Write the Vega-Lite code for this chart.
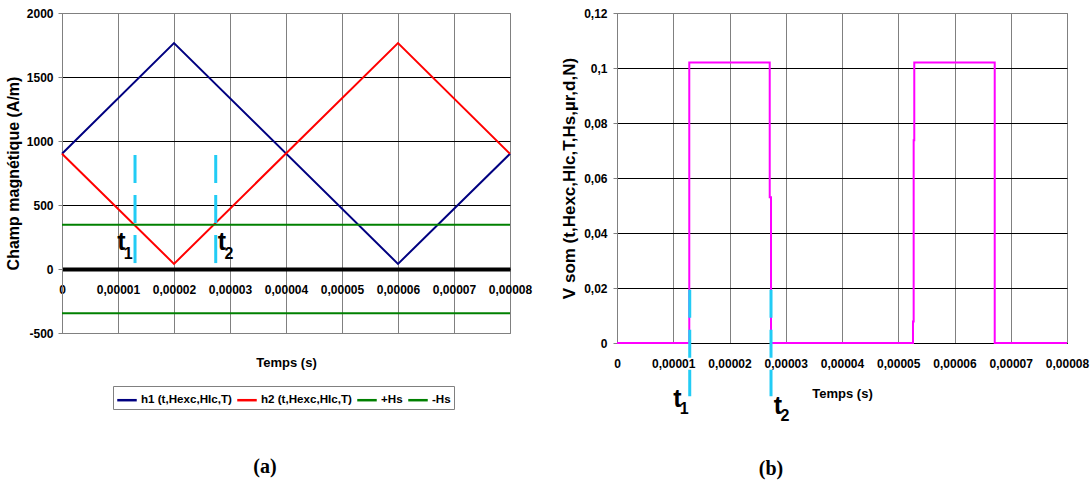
{
  "$schema": "https://vega.github.io/schema/vega-lite/v6.json",
  "padding": {"left": 4, "top": 6, "right": 0, "bottom": 0},
  "background": "white",
  "config": {
    "font": "Liberation Sans",
    "view": {"stroke": "#808080", "strokeWidth": 1},
    "axis": {
      "labelFont": "Liberation Sans", "labelFontWeight": "bold", "labelFontSize": 12, "labelColor": "black",
      "titleFont": "Liberation Sans", "titleFontWeight": "bold", "titleColor": "black",
      "gridOpacity": 1, "gridWidth": 1, "labelFlush": false, "labelOverlap": false
    },
    "concat": {"spacing": 27}
  },
  "datasets": {
    "field": [
      {"t": 0, "H": 900, "series": "h1 (t,Hexc,HIc,T)"},
      {"t": 0.00002, "H": 1765, "series": "h1 (t,Hexc,HIc,T)"},
      {"t": 0.00006, "H": 40, "series": "h1 (t,Hexc,HIc,T)"},
      {"t": 0.00008, "H": 900, "series": "h1 (t,Hexc,HIc,T)"},
      {"t": 0, "H": 900, "series": "h2 (t,Hexc,HIc,T)"},
      {"t": 0.00002, "H": 40, "series": "h2 (t,Hexc,HIc,T)"},
      {"t": 0.00006, "H": 1765, "series": "h2 (t,Hexc,HIc,T)"},
      {"t": 0.00008, "H": 900, "series": "h2 (t,Hexc,HIc,T)"},
      {"t": 0, "H": 345, "series": "+Hs"},
      {"t": 0.00008, "H": 345, "series": "+Hs"},
      {"t": 0, "H": -345, "series": "-Hs"},
      {"t": 0.00008, "H": -345, "series": "-Hs"}
    ],
    "markA": [
      {"t": 0.00001304, "top": 890, "bottom": 41},
      {"t": 0.00002745, "top": 890, "bottom": 41}
    ],
    "labelsA": [
      {"t": 0.00001059, "v": 213, "main": "t", "sub": "1"},
      {"t": 0.00002857, "v": 213, "main": "t", "sub": "2"}
    ],
    "pulse": [
      {"i": 0, "t": 0, "V": 0},
      {"i": 1, "t": 0.00001285, "V": 0},
      {"i": 2, "t": 0.00001285, "V": 0.102},
      {"i": 3, "t": 0.00002715, "V": 0.102},
      {"i": 4, "t": 0.00002715, "V": 0.053},
      {"i": 5, "t": 0.00002738, "V": 0.053},
      {"i": 6, "t": 0.00002738, "V": 0},
      {"i": 7, "t": 0.00005262, "V": 0},
      {"i": 8, "t": 0.00005262, "V": 0.0078},
      {"i": 9, "t": 0.00005274, "V": 0.0078},
      {"i": 10, "t": 0.00005274, "V": 0.0737},
      {"i": 11, "t": 0.00005285, "V": 0.0737},
      {"i": 12, "t": 0.00005285, "V": 0.102},
      {"i": 13, "t": 0.00006715, "V": 0.102},
      {"i": 14, "t": 0.00006715, "V": 0},
      {"i": 15, "t": 0.00008, "V": 0}
    ],
    "markB": [
      {"t": 0.00001293, "top": 0.0194, "bottom": -0.0194},
      {"t": 0.00002738, "top": 0.0194, "bottom": -0.0194}
    ],
    "labelsB": [
      {"t": 0.00001072, "v": -0.0205, "main": "t", "sub": "1"},
      {"t": 0.00002862, "v": -0.023, "main": "t", "sub": "2"}
    ]
  },
  "hconcat": [
    {
      "width": 448,
      "height": 320,
      "title": {"text": "(a)", "orient": "bottom", "font": "Liberation Serif", "fontSize": 20, "fontWeight": "bold", "color": "black", "offset": 47, "dx": -21, "anchor": "middle"},
      "layer": [
        {
          "data": {"name": "field"},
          "mark": {"type": "line", "strokeWidth": 2},
          "encoding": {
            "x": {
              "field": "t", "type": "quantitative",
              "scale": {"domain": [0, 0.00008], "nice": false, "zero": false},
              "axis": {
                "values": [0, 0.00001, 0.00002, 0.00003, 0.00004, 0.00005, 0.00006, 0.00007, 0.00008],
                "labelExpr": "datum.value == 0 ? '0' : replace(format(datum.value, '.5f'), '.', ',')",
                "offset": -64, "domainColor": "black", "domainWidth": 4, "ticks": false,
                "labelPadding": 15, "grid": true, "gridColor": "#808080",
                "title": "Temps (s)", "titleFontSize": 13, "titlePadding": 61
              }
            },
            "y": {
              "field": "H", "type": "quantitative",
              "scale": {"domain": [-500, 2000], "nice": false, "zero": false},
              "axis": {
                "values": [-500, 0, 500, 1000, 1500, 2000],
                "labelExpr": "datum.value + ''",
                "grid": true,
                "gridColor": {"condition": {"test": "datum.value == 2000 || datum.value == -500", "value": "#808080"}, "value": "black"},
                "domainColor": "#808080", "tickColor": "#808080", "tickSize": 4, "labelPadding": 5,
                "title": "Champ magnétique (A/m)", "titleFontSize": 16, "titlePadding": 5
              }
            },
            "color": {
              "field": "series", "type": "nominal",
              "scale": {"domain": ["h1 (t,Hexc,HIc,T)", "h2 (t,Hexc,HIc,T)", "+Hs", "-Hs"], "range": ["#000080", "#FF0000", "#008000", "#008000"]},
              "legend": {
                "orient": "none", "legendX": 51, "legendY": 373, "direction": "horizontal", "columns": 4,
                "title": null, "symbolType": "stroke", "symbolSize": 380, "symbolStrokeWidth": 2.5,
                "labelFont": "Liberation Sans", "labelFontSize": 11.6, "labelFontWeight": "bold", "labelColor": "black",
                "strokeColor": "#808080", "fillColor": "white", "padding": 3, "columnPadding": 0, "labelOffset": 3
              }
            }
          }
        },
        {
          "data": {"name": "markA"},
          "mark": {"type": "rule", "color": "#22CCF5", "strokeWidth": 3, "strokeDash": [28, 12]},
          "encoding": {
            "x": {"field": "t", "type": "quantitative"},
            "y": {"field": "top", "type": "quantitative"},
            "y2": {"field": "bottom"}
          }
        },
        {
          "data": {"name": "labelsA"},
          "mark": {"type": "text", "font": "Liberation Sans", "fontWeight": "bold", "fontSize": 25, "color": "black", "baseline": "middle", "align": "center"},
          "encoding": {
            "x": {"field": "t", "type": "quantitative"},
            "y": {"field": "v", "type": "quantitative"},
            "text": {"field": "main"}
          }
        },
        {
          "data": {"name": "labelsA"},
          "mark": {"type": "text", "font": "Liberation Sans", "fontWeight": "bold", "fontSize": 16, "color": "black", "baseline": "middle", "align": "center", "dx": 7, "dy": 12},
          "encoding": {
            "x": {"field": "t", "type": "quantitative"},
            "y": {"field": "v", "type": "quantitative"},
            "text": {"field": "sub"}
          }
        }
      ]
    },
    {
      "width": 450,
      "height": 330,
      "title": {"text": "(b)", "orient": "bottom", "font": "Liberation Serif", "fontSize": 20, "fontWeight": "bold", "color": "black", "offset": 35, "dx": -71, "anchor": "middle"},
      "layer": [
        {
          "data": {"name": "pulse"},
          "mark": {"type": "line", "strokeWidth": 2, "color": "#FF00FF"},
          "encoding": {
            "x": {
              "field": "t", "type": "quantitative",
              "scale": {"domain": [0, 0.00008], "nice": false, "zero": false},
              "axis": {
                "values": [0, 0.00001, 0.00002, 0.00003, 0.00004, 0.00005, 0.00006, 0.00007, 0.00008],
                "labelExpr": "datum.value == 0 ? '0' : replace(format(datum.value, '.5f'), '.', ',')",
                "domainColor": "black", "domainWidth": 1, "ticks": false,
                "labelPadding": 15, "grid": true, "gridColor": "#808080",
                "title": "Temps (s)", "titleFontSize": 13, "titlePadding": 18
              }
            },
            "y": {
              "field": "V", "type": "quantitative",
              "scale": {"domain": [0, 0.12], "nice": false, "zero": false},
              "axis": {
                "values": [0, 0.02, 0.04, 0.06, 0.08, 0.1, 0.12],
                "labelExpr": "replace(datum.value + '', '.', ',')",
                "grid": true,
                "gridColor": {"condition": {"test": "datum.value == 0.12", "value": "#808080"}, "value": "black"},
                "domainColor": "#808080", "tickColor": "#808080", "tickSize": 4, "labelPadding": 6,
                "title": "V som (t,Hexc,HIc,T,Hs,µr,d,N)", "titleFontSize": 17, "titlePadding": 5
              }
            },
            "order": {"field": "i", "type": "quantitative"}
          }
        },
        {
          "data": {"name": "markB"},
          "mark": {"type": "rule", "color": "#22CCF5", "strokeWidth": 3, "strokeDash": [28, 12]},
          "encoding": {
            "x": {"field": "t", "type": "quantitative"},
            "y": {"field": "top", "type": "quantitative"},
            "y2": {"field": "bottom"}
          }
        },
        {
          "data": {"name": "labelsB"},
          "mark": {"type": "text", "font": "Liberation Sans", "fontWeight": "bold", "fontSize": 25, "color": "black", "baseline": "middle", "align": "center"},
          "encoding": {
            "x": {"field": "t", "type": "quantitative"},
            "y": {"field": "v", "type": "quantitative"},
            "text": {"field": "main"}
          }
        },
        {
          "data": {"name": "labelsB"},
          "mark": {"type": "text", "font": "Liberation Sans", "fontWeight": "bold", "fontSize": 16, "color": "black", "baseline": "middle", "align": "center", "dx": 7, "dy": 10},
          "encoding": {
            "x": {"field": "t", "type": "quantitative"},
            "y": {"field": "v", "type": "quantitative"},
            "text": {"field": "sub"}
          }
        }
      ]
    }
  ],
  "resolve": {"scale": {"x": "independent", "y": "independent", "color": "independent"}, "legend": {"color": "independent"}}
}
